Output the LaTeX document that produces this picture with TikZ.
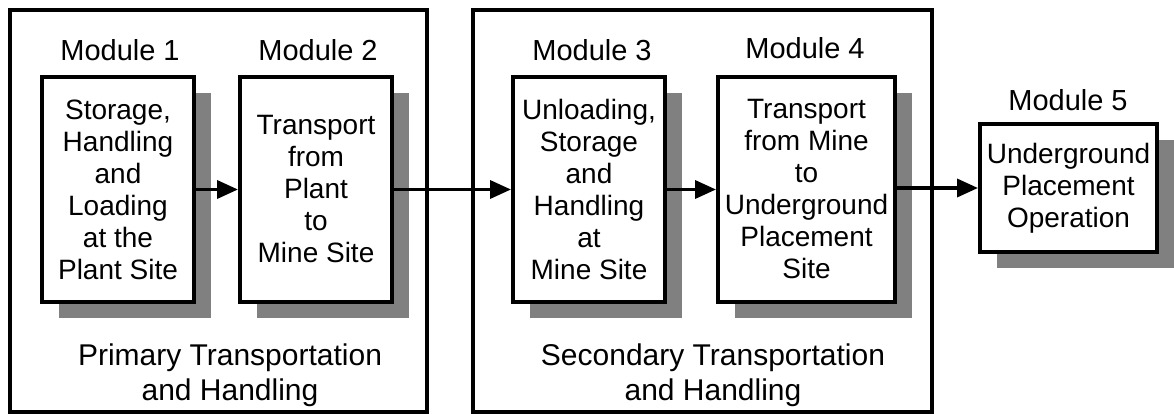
\documentclass[tikz,border=0pt]{standalone}
\usepackage{fontspec}
\setmainfont{Liberation Sans}
\usetikzlibrary{arrows.meta,shadows}
\begin{document}
\begin{tikzpicture}[x=1pt,y=-1pt,
  modbox/.style={draw,line width=4pt,fill=white,inner sep=0pt,align=center,
    font=\fontsize{28}{32}\selectfont,
    drop shadow={shadow xshift=17pt,shadow yshift=-16pt,fill=black!50,opacity=1}},
  groupbox/.style={draw,line width=3.2pt,inner sep=0pt},
  modlabel/.style={font=\fontsize{29}{32}\selectfont,anchor=center},
  grouplabel/.style={font=\fontsize{30}{35}\selectfont,align=center},
  arr/.style={line width=3.6pt,-{Triangle[length=21pt,width=18pt]}}]
\useasboundingbox (0,0) rectangle (1174,414);
\fill[white] (0,0) rectangle (1174,414);
% group boxes
\node[groupbox,minimum width=417pt,minimum height=402pt] (g1) at (218.5,211) {};
\node[groupbox,minimum width=459pt,minimum height=402pt] (g2) at (702.5,211) {};
% modules
\node[modbox,minimum width=152pt,minimum height=225pt] (m1) at (118,189.5)
  {Storage,\\Handling\\and\\Loading\\at the\\Plant Site};
\node[modbox,minimum width=152pt,minimum height=225pt] (m2) at (316,189.5)
  {Transport\\from\\Plant\\to\\Mine Site};
\node[modbox,minimum width=152pt,minimum height=225pt] (m3) at (589,189.5)
  {Unloading,\\Storage\\and\\Handling\\at\\Mine Site};
\node[modbox,minimum width=177pt,minimum height=225pt] (m4) at (806.5,189.5)
  {Transport\\from Mine\\to\\Underground\\Placement\\Site};
\node[modbox,minimum width=177pt,minimum height=128pt] (m5) at (1068.5,188)
  {Underground\\Placement\\Operation};
% module labels
\node[modlabel] (l1) at (120,50) {Module 1};
\node[modlabel] (l2) at (318,50) {Module 2};
\node[modlabel] (l3) at (592,50) {Module 3};
\node[modlabel] (l4) at (805,48) {Module 4};
\node[modlabel] (l5) at (1068,100) {Module 5};
% group labels
\node[grouplabel] (t1) at (230,375) {Primary Transportation\\and Handling};
\node[grouplabel] (t2) at (713,375) {Secondary Transportation\\and Handling};
% arrows
\draw[arr] (m1.east) -- (m2.west);
\draw[arr] (m2.east) -- (m3.west);
\draw[arr] (m3.east) -- (m4.west);
\draw[arr] (m4.east |- m5.west) -- (m5.west);
\end{tikzpicture}
\end{document}
